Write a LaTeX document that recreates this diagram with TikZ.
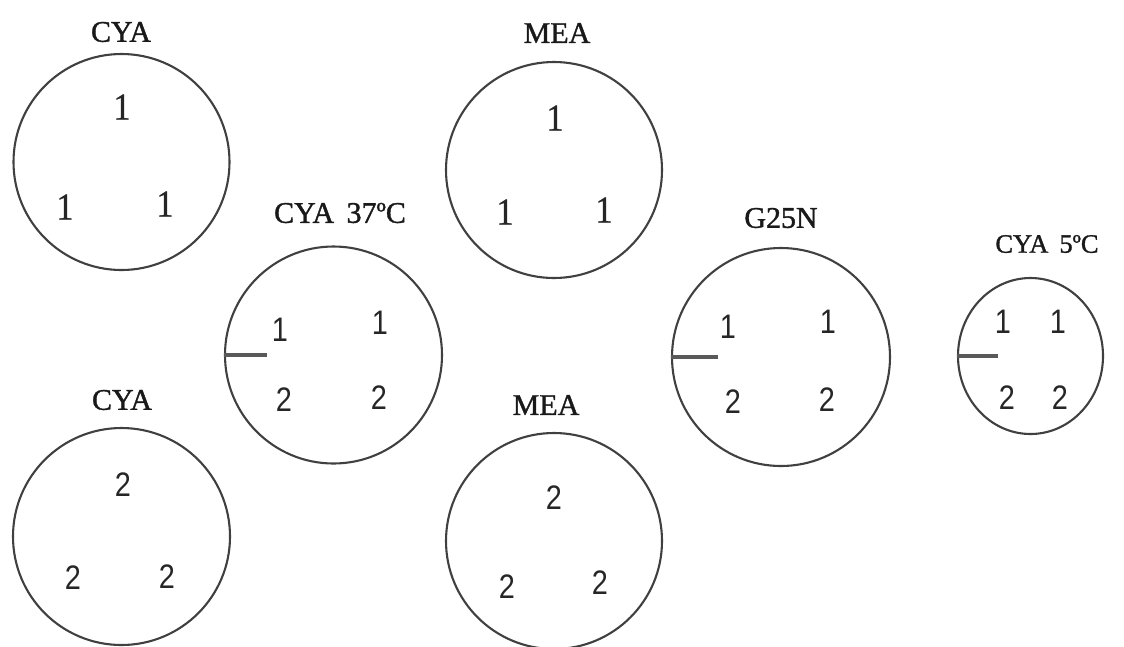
\documentclass[tikz,border=0pt]{standalone}
\usepackage{fontspec}
\setmainfont{Liberation Serif}
\newfontfamily\headserif[FakeBold=1.2]{Liberation Serif}
\newfontfamily\digitsans[FakeStretch=0.85]{Liberation Sans}
\newfontfamily\digitserif[FakeStretch=0.9, FakeBold=0.8]{Liberation Serif}
\usetikzlibrary{shapes.geometric}
\tikzset{
  x=1pt, y=-1pt,
  plate/.style={draw=black!75, line width=2.1pt, circle, inner sep=0pt, minimum size=#1},
  oval/.style={draw=black!75, line width=2.1pt, ellipse, inner sep=0pt},
  title/.style={font=\headserif\fontsize{30}{30}\selectfont, inner sep=0pt, text=black!90},
  smalltitle/.style={font=\headserif\fontsize{26.5}{26.5}\selectfont, inner sep=0pt, text=black!90},
  serifdigit/.style={font=\digitserif\fontsize{38}{38}\selectfont, inner sep=0pt, text=black!85},
  sansdigit/.style={font=\digitsans\fontsize{34}{34}\selectfont, inner sep=0pt, text=black!85},
  streak/.style={draw=black!65, line width=3.2pt}
}
\begin{document}
\begin{tikzpicture}
\useasboundingbox (0,0) rectangle (1124,646);

% --- first transfer, CYA
\node[title] (tA) at (121,32) {CYA};
\node[plate=216pt] (pA) at (121.5,162) {};
\node[serifdigit] (a1) at (122,107) {1};
\node[serifdigit] (a2) at (65,207) {1};
\node[serifdigit] (a3) at (165,204) {1};

% --- first transfer, MEA
\node[title] (tB) at (557,33) {MEA};
\node[plate=216pt] (pB) at (554,170) {};
\node[serifdigit] (b1) at (555,118) {1};
\node[serifdigit] (b2) at (505,212) {1};
\node[serifdigit] (b3) at (604,210) {1};

% --- CYA at 37 C
\node[title] (tC) at (340,213) {CYA\, 37ºC};
\node[plate=217pt] (pC) at (333.5,355) {};
\coordinate (cC) at (267,355);
\draw[streak] (pC.west) -- (cC);
\node[sansdigit] (c1) at (280,330) {1};
\node[sansdigit] (c2) at (380,323) {1};
\node[sansdigit] (c3) at (284,400) {2};
\node[sansdigit] (c4) at (379,398) {2};

% --- G25N
\node[title] (tD) at (781,218) {G25N};
\node[plate=218pt] (pD) at (781,357) {};
\coordinate (cD) at (718,357);
\draw[streak] (pD.west) -- (cD);
\node[sansdigit] (d1) at (728,327) {1};
\node[sansdigit] (d2) at (828,322) {1};
\node[sansdigit] (d3) at (733,402) {2};
\node[sansdigit] (d4) at (827,400) {2};

% --- CYA at 5 C
\node[smalltitle] (tE) at (1047,244) {CYA\, 5ºC};
\node[oval, minimum width=145pt, minimum height=156pt] (pE) at (1030.5,356) {};
\coordinate (cE) at (998,356);
\draw[streak] (pE.west) -- (cE);
\node[sansdigit] (e1) at (1003,322) {1};
\node[sansdigit] (e2) at (1058,322) {1};
\node[sansdigit] (e3) at (1007,398) {2};
\node[sansdigit] (e4) at (1060,398) {2};

% --- second transfer, CYA
\node[title] (tF) at (122,400) {CYA};
\node[plate=217pt] (pF) at (121.5,536.5) {};
\node[sansdigit] (f1) at (123,485) {2};
\node[sansdigit] (f2) at (73,578) {2};
\node[sansdigit] (f3) at (167,577) {2};

% --- second transfer, MEA
\node[title] (tG) at (546,405) {MEA};
\node[plate=216pt] (pG) at (554,541) {};
\node[sansdigit] (g1) at (554,498) {2};
\node[sansdigit] (g2) at (507,587) {2};
\node[sansdigit] (g3) at (600,583) {2};
\end{tikzpicture}
\end{document}
